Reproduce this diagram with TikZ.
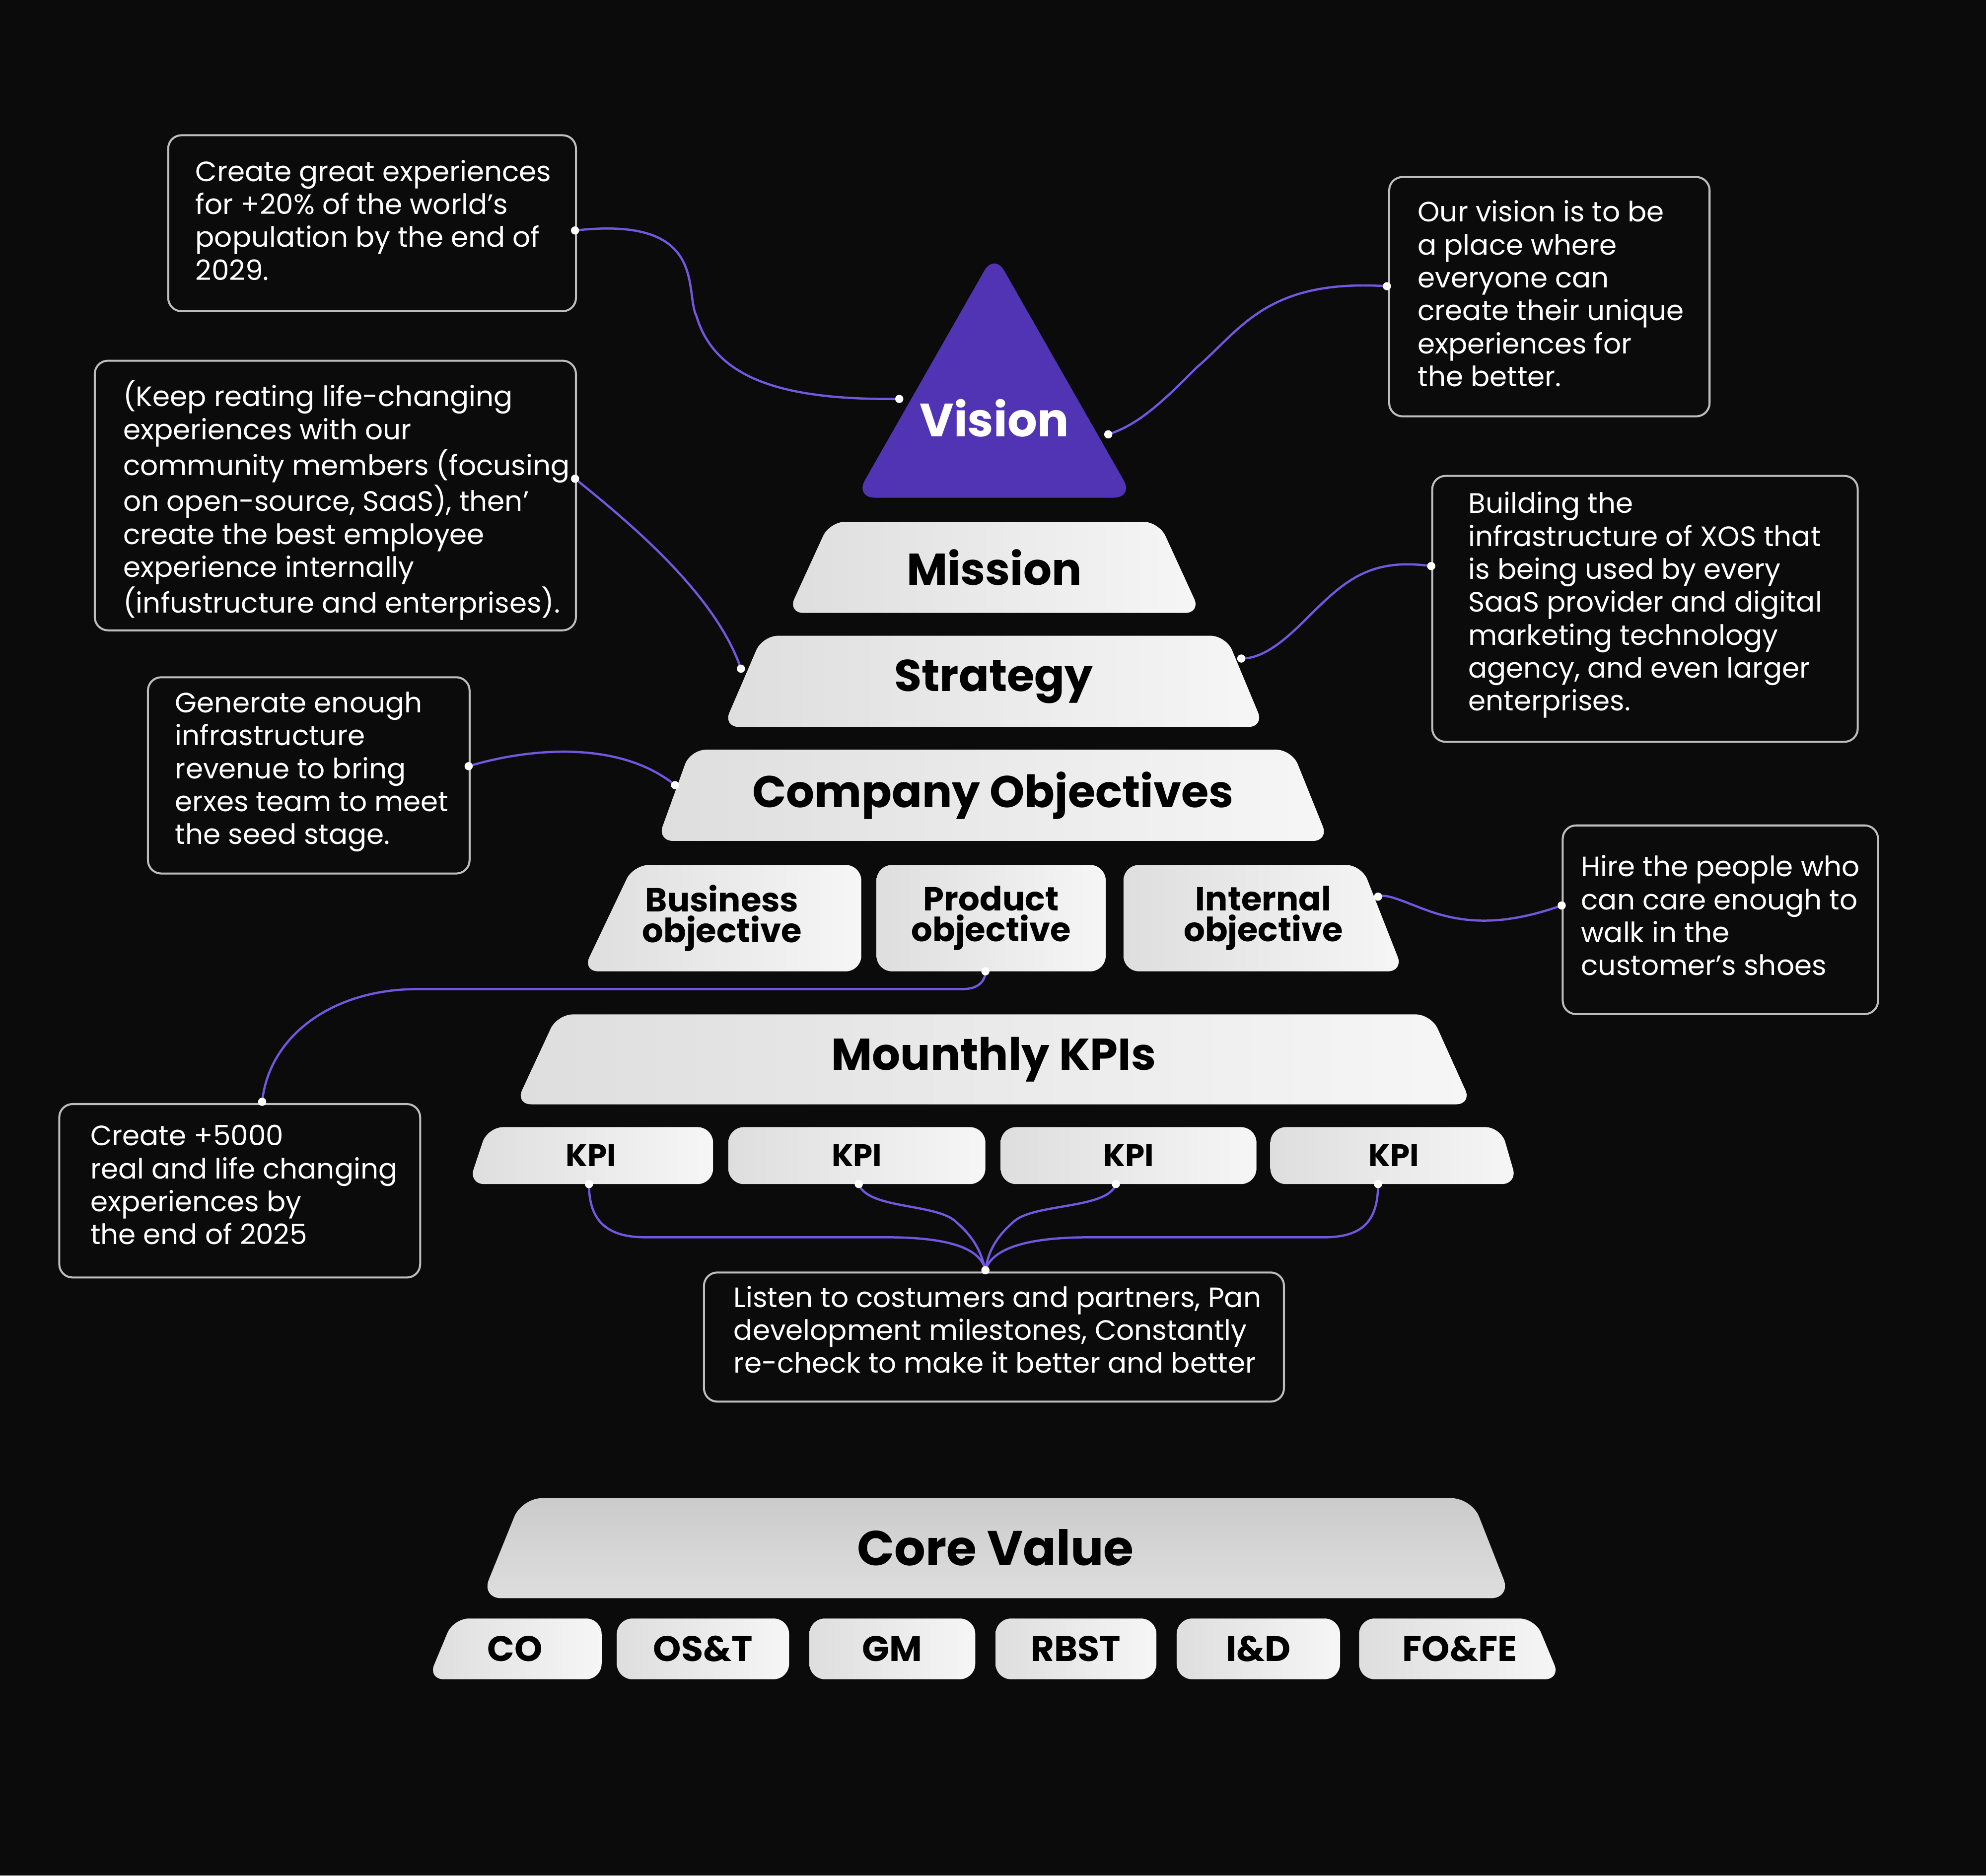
\documentclass[tikz,border=0pt]{standalone}
\usepackage{fontspec}
\setmainfont{Poppins}
\definecolor{bg}{HTML}{0B0B0B}
\definecolor{vio}{HTML}{5034B4}
\definecolor{lnk}{HTML}{7457E0}
\definecolor{lite}{HTML}{F6F6F6}
\definecolor{dim}{HTML}{DEDEDE}
\definecolor{edge}{HTML}{BDBDBD}
\tikzset{
 boxst/.style={draw=edge,line width=0.9pt,rounded corners=6pt,fill=bg,anchor=north west,inner sep=0pt},
 txt/.style={text=white,anchor=north west,align=left,inner sep=0pt,font=\fontsize{12.6pt}{14.8pt}\selectfont},
 lab/.style={text=black,align=center,inner sep=0pt},
 conn/.style={draw=lnk,line width=1pt},
 dot/.style={fill=white,circle,inner sep=1.3pt}
}
\newcommand{\trapz}[9]{%
 \shade[left color=dim,right color=lite,rounded corners=7pt] (#3,#1) -- (#4,#1) -- (#6,#2) -- (#5,#2) -- cycle;
 \node[lab,font=#9] (#7) at ({(#5+#6)/2},{(#1+#2)/2}) {#8};}
\begin{document}
\begin{tikzpicture}[x=0.02cm,y=-0.02cm]
\fill[bg] (0,0) rectangle (1568,1481);
\useasboundingbox (0,0) rectangle (1568,1481);
% vision
\fill[vio,rounded corners=9pt] (785,200) -- (895,393) -- (675,393) -- cycle;
\node[text=white,font=\fontsize{21pt}{24pt}\selectfont\bfseries] (vision) at (785,330) {Vision};
\trapz{412}{484}{655}{915}{622}{948}{mission}{Mission}{\fontsize{20pt}{22pt}\selectfont\bfseries}
\trapz{502}{574}{602}{968}{571}{998}{strategy}{Strategy}{\fontsize{20pt}{22pt}\selectfont\bfseries}
\trapz{592}{664}{545}{1020}{519}{1049}{company}{Company Objectives}{\fontsize{20pt}{22pt}\selectfont\bfseries}
\trapz{683}{767}{500}{680}{460}{680}{bus}{Business\\[-2pt]objective}{\fontsize{15pt}{16pt}\selectfont\bfseries}
\trapz{683}{767}{692}{873}{692}{873}{prod}{Product\\[-2pt]objective}{\fontsize{15pt}{16pt}\selectfont\bfseries}
\trapz{683}{767}{887}{1075}{887}{1108}{intl}{Internal\\[-2pt]objective}{\fontsize{15pt}{16pt}\selectfont\bfseries}
\trapz{801}{872}{440}{1130}{407}{1162}{kpis}{Mounthly KPIs}{\fontsize{20pt}{22pt}\selectfont\bfseries}
\trapz{890}{935}{385}{563}{370}{563}{k1}{KPI}{\fontsize{14pt}{16pt}\selectfont\bfseries}
\trapz{890}{935}{575}{778}{575}{778}{k2}{KPI}{\fontsize{14pt}{16pt}\selectfont\bfseries}
\trapz{890}{935}{790}{992}{790}{992}{k3}{KPI}{\fontsize{14pt}{16pt}\selectfont\bfseries}
\trapz{890}{935}{1003}{1185}{1003}{1198}{k4}{KPI}{\fontsize{14pt}{16pt}\selectfont\bfseries}
\shade[top color=dim!80!gray,bottom color=dim,rounded corners=9pt] (412,1183) -- (1162,1183) -- (1193,1262) -- (380,1262) -- cycle;
\node[lab,font=\fontsize{22pt}{24pt}\selectfont\bfseries] (core) at (786,1222) {Core Value};
\trapz{1278}{1326}{358}{475}{338}{475}{c1}{CO}{\fontsize{16pt}{18pt}\selectfont\bfseries}
\trapz{1278}{1326}{487}{623}{487}{623}{c2}{OS\&T}{\fontsize{16pt}{18pt}\selectfont\bfseries}
\trapz{1278}{1326}{639}{770}{639}{770}{c3}{GM}{\fontsize{16pt}{18pt}\selectfont\bfseries}
\trapz{1278}{1326}{786}{913}{786}{913}{c4}{RBST}{\fontsize{16pt}{18pt}\selectfont\bfseries}
\trapz{1278}{1326}{929}{1058}{929}{1058}{c5}{I\&D}{\fontsize{16pt}{18pt}\selectfont\bfseries}
\trapz{1278}{1326}{1073}{1212}{1073}{1232}{c6}{FO\&FE}{\fontsize{16pt}{18pt}\selectfont\bfseries}
% boxes
\node[boxst,minimum width=6.44cm,minimum height=2.78cm] (b1) at (132,106) {};
\node[txt] at (154,126) {Create great experiences\\for +20\% of the world’s\\population by the end of\\2029.};
\node[boxst,minimum width=5.06cm,minimum height=3.78cm] (b2) at (1096,139) {};
\node[txt] at (1119,158) {Our vision is to be\\a place where\\everyone can\\create their unique\\experiences for\\the better.};
\node[boxst,minimum width=7.6cm,minimum height=4.26cm] (b3) at (74,284) {};
\node[txt] at (97,300) {(Keep reating life-changing\\experiences with our\\community members (focusing\\on open-source, SaaS), then’\\create the best employee\\experience internally\\(infustructure and enterprises).};
\node[boxst,minimum width=6.72cm,minimum height=4.2cm] (b4) at (1130,375) {};
\node[txt] at (1159,388) {Building the\\infrastructure of XOS that\\is being used by every\\SaaS provider and digital\\marketing technology\\agency, and even larger\\enterprises.};
\node[boxst,minimum width=5.08cm,minimum height=3.1cm] (b5) at (116,534) {};
\node[txt] at (138,546) {Generate enough\\infrastructure\\revenue to bring\\erxes team to meet\\the seed stage.};
\node[boxst,minimum width=4.98cm,minimum height=2.98cm] (b6) at (1233,651) {};
\node[txt] at (1248,675) {Hire the people who\\can care enough to\\walk in the\\customer’s shoes};
\node[boxst,minimum width=5.7cm,minimum height=2.74cm] (b7) at (46,871) {};
\node[txt] at (71,888) {Create +5000\\real and life changing\\experiences by\\the end of 2025};
\node[boxst,minimum width=9.16cm,minimum height=2.04cm] (b8) at (555,1004) {};
\node[txt] at (579,1015) {Listen to costumers and partners, Pan\\development milestones, Constantly\\re-check to make it better and better};
% connector points
\coordinate (p1) at (454,182); \coordinate (v1) at (710,315);
\coordinate (p2) at (1095,226); \coordinate (v2) at (875,343);
\coordinate (p3) at (454,378); \coordinate (s1) at (585,528);
\coordinate (p4) at (1130,447); \coordinate (s2) at (980,520);
\coordinate (p5) at (370,605); \coordinate (co1) at (533,620);
\coordinate (p6) at (1233,715); \coordinate (in1) at (1088,708);
\coordinate (p7) at (207,870); \coordinate (pr1) at (778,767);
\coordinate (q1) at (465,935); \coordinate (q2) at (678,935);
\coordinate (q3) at (881,935); \coordinate (q4) at (1088,935);
\coordinate (p8) at (778,1003);
\draw[conn] (p1) .. controls (560,170) and (540,230) .. (550,250) .. controls (565,300) and (620,316) .. (v1);
\draw[conn] (p2) .. controls (1000,220) and (980,260) .. (945,290) .. controls (920,315) and (900,335) .. (v2);
\draw[conn] (p3) .. controls (500,415) and (565,470) .. (s1);
\draw[conn] (p4) .. controls (1080,440) and (1060,460) .. (1030,490) .. controls (1010,510) and (995,520) .. (s2);
\draw[conn] (p5) .. controls (420,590) and (490,585) .. (co1);
\draw[conn] (p6) .. controls (1190,730) and (1160,730) .. (1130,720) .. controls (1110,713) and (1095,705) .. (in1);
\draw[conn] (p7) .. controls (212,820) and (260,781) .. (330,781) -- (760,781) .. controls (772,781) and (778,775) .. (pr1);
\draw[conn] (q1) .. controls (465,965) and (480,977) .. (510,977) -- (700,977) .. controls (760,977) and (775,990) .. (p8);
\draw[conn] (q2) .. controls (685,955) and (740,950) .. (755,965) .. controls (770,978) and (775,990) .. (p8);
\draw[conn] (q3) .. controls (875,955) and (815,950) .. (800,965) .. controls (785,978) and (780,990) .. (p8);
\draw[conn] (q4) .. controls (1088,965) and (1075,977) .. (1045,977) -- (860,977) .. controls (800,977) and (782,990) .. (p8);
\foreach \p in {p1,v1,p2,v2,p3,s1,p4,s2,p5,co1,p6,in1,p7,pr1,q1,q2,q3,q4,p8} \node[dot] at (\p) {};
\end{tikzpicture}
\end{document}
